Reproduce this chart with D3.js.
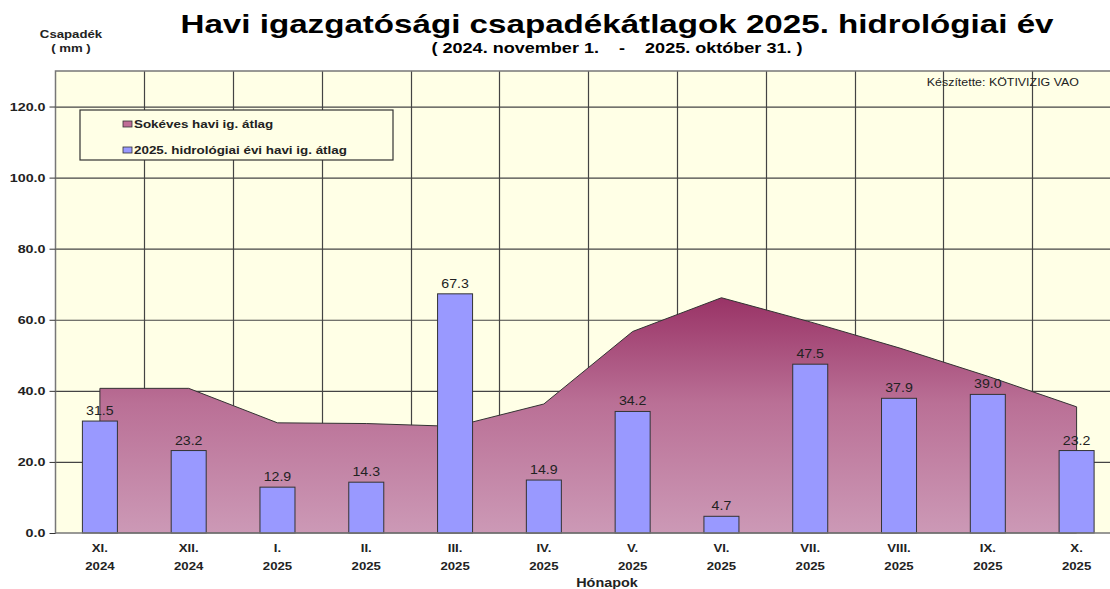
<!DOCTYPE html>
<html>
<head>
<meta charset="utf-8">
<script src="https://cdn.jsdelivr.net/npm/d3@7"></script>
<style>
  body { margin: 0; background: #fff; }
  svg { display: block; font-family: "Liberation Sans", Arial, sans-serif; }
</style>
</head>
<body>
<svg id="chart" width="1110" height="589"></svg>
<script>
// months of the hydrological year
const months = ["XI.", "XII.", "I.", "II.", "III.", "IV.", "V.", "VI.", "VII.", "VIII.", "IX.", "X."];
const years = ["2024", "2024", "2025", "2025", "2025", "2025", "2025", "2025", "2025", "2025", "2025", "2025"];
// long-term monthly average (read from the area)
const longTerm = [40.7, 40.7, 31.0, 30.8, 30.0, 36.3, 56.7, 66.2, 59.4, 52.1, 44.1, 35.5];
// 2025 hydrological year monthly average
const current = [31.5, 23.2, 12.9, 14.3, 67.3, 14.9, 34.2, 4.7, 47.5, 37.9, 39.0, 23.2];
const yTicks = [0, 20, 40, 60, 80, 100, 120];

const svg = d3.select("#chart");
const plotL = 55.5, plotR = 1121, plotT = 71, plotB = 533;

// the original export has wide-looking text, widen glyphs around their x anchor
function stretch(sel, sx) {
  sel.attr("transform", function () {
    const x0 = +this.getAttribute("x") || 0;
    return `matrix(${sx},0,0,1,${x0 * (1 - sx)},0)`;
  });
}

const x = d3.scaleBand().domain(months).range([plotL, plotR]);
const y = d3.scaleLinear().domain([0, 130]).range([plotB, plotT]);

// plot background
svg.append("rect")
  .attr("x", plotL).attr("y", plotT)
  .attr("width", plotR - plotL).attr("height", plotB - plotT)
  .attr("fill", "#ffffe6");

// gridlines
svg.append("g")
  .selectAll("line")
  .data(yTicks.filter(d => d > 0))
  .join("line")
  .attr("x1", plotL).attr("x2", plotR)
  .attr("y1", d => y(d) + 0.5).attr("y2", d => y(d) + 0.5)
  .attr("stroke", "#444").attr("stroke-width", 1.2);

svg.append("g")
  .selectAll("line")
  .data(months.slice(1))
  .join("line")
  .attr("x1", d => Math.round(x(d)) + 0.5).attr("x2", d => Math.round(x(d)) + 0.5)
  .attr("y1", plotT).attr("y2", plotB)
  .attr("stroke", "#444").attr("stroke-width", 1.2);

// gradient for the long-term area
const defs = svg.append("defs");
const grad = defs.append("linearGradient")
  .attr("id", "areaGrad")
  .attr("gradientUnits", "userSpaceOnUse")
  .attr("x1", 0).attr("x2", 0)
  .attr("y1", y(d3.max(longTerm))).attr("y2", plotB);
grad.append("stop").attr("offset", "0%").attr("stop-color", "#993366");
grad.append("stop").attr("offset", "45%").attr("stop-color", "#ba7096");
grad.append("stop").attr("offset", "100%").attr("stop-color", "#cc99b6");

const cx = (d, i) => x(months[i]) + x.bandwidth() / 2;

const area = d3.area()
  .x(cx)
  .y0(plotB)
  .y1(d => y(d));

svg.append("path")
  .datum(longTerm)
  .attr("d", area)
  .attr("fill", "url(#areaGrad)")
  .attr("stroke", "#333")
  .attr("stroke-width", 1);

// bars
const barW = 35;
svg.append("g")
  .selectAll("rect")
  .data(current)
  .join("rect")
  .attr("x", (d, i) => cx(d, i) - barW / 2)
  .attr("y", d => y(d))
  .attr("width", barW)
  .attr("height", d => plotB - y(d))
  .attr("fill", "#9999ff")
  .attr("stroke", "#333")
  .attr("stroke-width", 1);

// bar value labels
svg.append("g")
  .selectAll("text")
  .data(current)
  .join("text")
  .attr("x", (d, i) => cx(d, i))
  .attr("y", d => y(d) - 6)
  .attr("text-anchor", "middle")
  .attr("font-size", 12)
  .attr("fill", "#222")
  .text(d => d.toFixed(1))
  .call(stretch, 1.18);

// plot frame
svg.append("rect")
  .attr("x", plotL).attr("y", plotT)
  .attr("width", plotR - plotL).attr("height", plotB - plotT)
  .attr("fill", "none")
  .attr("stroke", "#777").attr("stroke-width", 1.5);

// y axis
const yAxis = svg.append("g")
  .attr("transform", `translate(${plotL},0)`)
  .call(d3.axisLeft(y).tickValues(yTicks).tickFormat(d3.format(".1f")).tickSize(6).tickPadding(4));
yAxis.select(".domain").remove();
yAxis.selectAll("line").attr("stroke", "#333");
yAxis.selectAll("text")
  .attr("font-family", "Liberation Sans, Arial, sans-serif")
  .attr("font-size", 11).attr("font-weight", "bold").attr("fill", "#222")
  .call(stretch, 1.3);

// x axis labels
const xl = svg.append("g");
xl.selectAll("text.m")
  .data(months)
  .join("text")
  .attr("class", "m")
  .attr("x", d => x(d) + x.bandwidth() / 2)
  .attr("y", 552)
  .attr("text-anchor", "middle")
  .attr("font-size", 11).attr("font-weight", "bold").attr("fill", "#222")
  .text(d => d)
  .call(stretch, 1.2);
xl.selectAll("text.yr")
  .data(years)
  .join("text")
  .attr("class", "yr")
  .attr("x", (d, i) => x(months[i]) + x.bandwidth() / 2)
  .attr("y", 570)
  .attr("text-anchor", "middle")
  .attr("font-size", 11).attr("font-weight", "bold").attr("fill", "#222")
  .text(d => d)
  .call(stretch, 1.2);

svg.append("text")
  .attr("x", 607).attr("y", 587)
  .attr("text-anchor", "middle")
  .attr("font-size", 12).attr("font-weight", "bold").attr("fill", "#222")
  .text("Hónapok")
  .call(stretch, 1.2);

// titles
svg.append("text")
  .attr("x", 617).attr("y", 33)
  .attr("text-anchor", "middle")
  .attr("font-size", 26).attr("font-weight", "bold").attr("fill", "#000")
  .text("Havi igazgatósági csapadékátlagok 2025. hidrológiai év")
  .call(stretch, 1.275);

svg.append("text")
  .attr("x", 617).attr("y", 53)
  .attr("text-anchor", "middle")
  .attr("font-size", 14).attr("font-weight", "bold").attr("fill", "#000")
  .style("white-space", "pre")
  .text("( 2024. november 1.    -    2025. október 31. )")
  .call(stretch, 1.29);

svg.append("text")
  .attr("x", 71).attr("y", 38)
  .attr("text-anchor", "middle")
  .attr("font-size", 11).attr("font-weight", "bold").attr("fill", "#222")
  .text("Csapadék")
  .call(stretch, 1.2);
svg.append("text")
  .attr("x", 71).attr("y", 52)
  .attr("text-anchor", "middle")
  .attr("font-size", 11).attr("font-weight", "bold").attr("fill", "#222")
  .text("( mm )")
  .call(stretch, 1.2);

svg.append("text")
  .attr("x", 1079).attr("y", 86)
  .attr("text-anchor", "end")
  .attr("font-size", 11).attr("fill", "#222")
  .text("Készítette: KÖTIVIZIG VAO")
  .call(stretch, 1.13);

// legend
const legendItems = [
  { label: "Sokéves havi ig. átlag", color: "#c06d96" },
  { label: "2025. hidrológiai évi havi ig. átlag", color: "#9999ff" }
];
const lg = svg.append("g").attr("transform", "translate(80,110)");
lg.append("rect")
  .attr("width", 313).attr("height", 50)
  .attr("fill", "#ffffe6")
  .attr("stroke", "#333").attr("stroke-width", 1.2);
const li = lg.selectAll("g.item")
  .data(legendItems)
  .join("g")
  .attr("class", "item")
  .attr("transform", (d, i) => `translate(0,${13 + i * 26})`);
li.append("rect")
  .attr("x", 43).attr("y", -2)
  .attr("width", 9).attr("height", 6)
  .attr("fill", d => d.color)
  .attr("stroke", "#333").attr("stroke-width", 0.8);
li.append("text")
  .attr("x", 54).attr("y", 5)
  .attr("font-size", 11).attr("font-weight", "bold").attr("fill", "#222")
  .text(d => d.label)
  .call(stretch, 1.22);
</script>
</body>
</html>
